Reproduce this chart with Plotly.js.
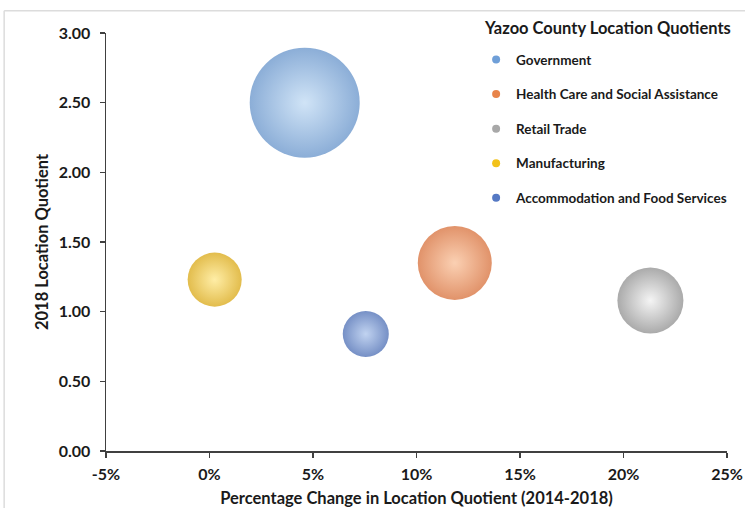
<!DOCTYPE html>
<html>
<head>
<meta charset="utf-8">
<script src="https://cdn.plot.ly/plotly-3.0.1.min.js"></script>
<style>html,body{margin:0;padding:0;background:#fff;}#chart{width:745px;height:508px;}</style>
</head>
<body>
<div id="chart"></div>
<script>
const industries = ['Government', 'Health Care and Social Assistance', 'Retail Trade', 'Manufacturing', 'Accommodation and Food Services'];
const pctChange = [4.6, 11.85, 21.3, 0.25, 7.55];
const lq2018 = [2.50, 1.35, 1.08, 1.23, 0.84];
const bubbleSize = [1210, 548, 436, 292, 212];
const xTickVals = [-5, 0, 5, 10, 15, 20, 25];
const xTickText = ['-5%', '0%', '5%', '10%', '15%', '20%', '25%'];
const yTickVals = [0, 0.5, 1, 1.5, 2, 2.5, 3];
const chartTitle = 'Yazoo County Location Quotients';

const edgeColors = ['#5a8bc6', '#d4642a', '#868686', '#d6a000', '#3b60ad'];
const centerColors = ['#bcd8f3', '#f9bc92', '#f0f0f0', '#ffe680', '#a6c0ea'];
const legendColors = ['#6f9fd8', '#e8844a', '#a8a8a8', '#f2c21a', '#5579c4'];

const FONT = 'Lato, "Open Sans", sans-serif';
const sizeref = 2 * bubbleSize[0] / (110 * 110);

const traces = [];
industries.forEach((name, i) => {
  traces.push({
    type: 'scatter', mode: 'markers', name: name,
    x: [pctChange[i]], y: [lq2018[i]],
    showlegend: false, hoverinfo: 'name+x+y',
    marker: {
      size: [bubbleSize[i]], sizemode: 'area', sizeref: sizeref,
      color: edgeColors[i], line: {width: 0},
      gradient: {type: 'radial', color: centerColors[i]}
    }
  });
});
industries.forEach((name, i) => {
  traces.push({
    type: 'scatter', mode: 'markers', name: name,
    x: [null], y: [null], legendgroup: 'g' + i,
    marker: {size: 8, color: legendColors[i], line: {width: 0}}
  });
});

const layout = {
  width: 745, height: 508,
  margin: {l: 106, r: 18, t: 33, b: 57},
  paper_bgcolor: '#ffffff', plot_bgcolor: '#ffffff',
  font: {family: FONT, color: '#1a1a1a', size: 15},
  showlegend: true,
  legend: {
    x: 0.596, y: 0.973, xanchor: 'left', yanchor: 'top',
    bgcolor: 'rgba(0,0,0,0)',
    font: {family: FONT, size: 13.5, color: '#1a1a1a', weight: 'bold'},
    tracegroupgap: 14, itemsizing: 'trace'
  },
  annotations: [
    {text: chartTitle, xref: 'paper', yref: 'paper', x: 0.606, y: 1.012, xanchor: 'left', yanchor: 'middle', showarrow: false,
     font: {family: FONT, size: 16.5, color: '#1a1a1a', weight: 'bold'}}
  ],
  xaxis: {
    range: [-5, 25], tickmode: 'array', tickvals: xTickVals, ticktext: xTickText,
    showgrid: false, zeroline: false,
    showline: true, linecolor: '#404040', linewidth: 1.5,
    ticks: 'outside', ticklen: 5, tickcolor: '#404040', tickwidth: 1.5,
    tickfont: {family: FONT, size: 16, weight: 'bold', color: '#1a1a1a'},
    ticklabelstandoff: 3,
    title: {text: 'Percentage Change in Location Quotient (2014-2018)', font: {family: FONT, size: 16.5, weight: 'bold', color: '#1a1a1a'}, standoff: 10},
    fixedrange: true
  },
  yaxis: {
    range: [0, 3], tickvals: yTickVals, tickformat: '.2f',
    showgrid: false, zeroline: false,
    showline: true, linecolor: '#404040', linewidth: 1.5,
    ticks: 'outside', ticklen: 5, tickcolor: '#404040', tickwidth: 1.5,
    tickfont: {family: FONT, size: 16, weight: 'bold', color: '#1a1a1a'},
    ticklabelstandoff: 6,
    title: {text: '2018 Location Quotient', font: {family: FONT, size: 16.5, weight: 'bold', color: '#1a1a1a'}, standoff: 6},
    fixedrange: true
  },
  yaxis2: {
    overlaying: 'y', anchor: 'x', side: 'left', range: [0, 3], tickvals: yTickVals,
    showticklabels: false, showgrid: false, zeroline: false, showline: false,
    ticks: 'inside', ticklen: 5, tickcolor: '#404040', tickwidth: 1.5, fixedrange: true
  },
  shapes: [
    {type: 'line', xref: 'paper', yref: 'paper', x0: -0.164, x1: 1.2, y0: 1.053, y1: 1.053, line: {color: '#dcdcdc', width: 1.5}, layer: 'below'},
    {type: 'line', xref: 'paper', yref: 'paper', x0: -0.164, x1: -0.164, y0: -0.2, y1: 1.053, line: {color: '#dcdcdc', width: 1.5}, layer: 'below'}
  ]
};

Plotly.newPlot('chart', traces, layout, {displayModeBar: false, staticPlot: true});
</script>
</body>
</html>
